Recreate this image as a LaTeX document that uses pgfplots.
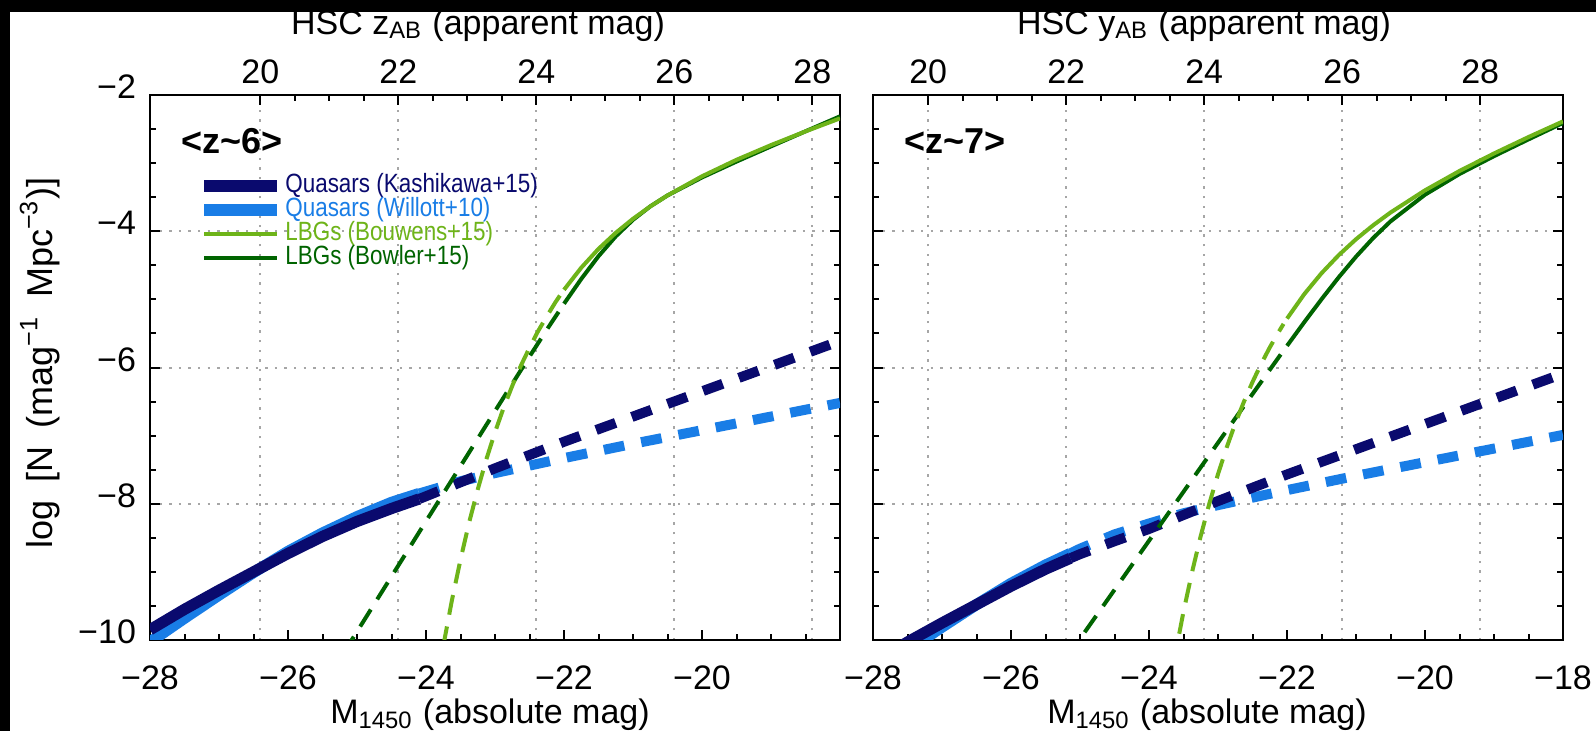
\documentclass[border=0pt]{standalone}
\usepackage{fontspec}
\setmainfont{Liberation Sans}
\newfontfamily\narrowfont{Liberation Sans}[FakeStretch=0.85]
\usepackage{pgfplots}
\pgfplotsset{compat=1.18}
\definecolor{qnavy}{RGB}{10,10,110}
\definecolor{qblue}{RGB}{25,125,230}
\definecolor{lgreen}{RGB}{110,180,25}
\definecolor{dgreen}{RGB}{0,100,0}
\pgfplotsset{
  common/.style={scale only axis, width=172.5bp, height=136.25bp, anchor=south west,
    ymin=-10, ymax=-2, tick align=inside, major tick length=2.5bp, minor tick length=1.5bp,
    every tick/.style={black, line width=0.5bp}, axis line style={line width=0.6bp},
    grid style={gray!70, line width=0.5bp, dash pattern=on 0.6bp off 1.8bp},
    tick label style={font=\fontsize{8.5bp}{10bp}\selectfont}},
  toppanel/.style={common, axis x line*=top, hide y axis, xtick={20,22,...,28},
    xticklabels={20,22,24,26,28}, minor x tick num=3, xmajorgrids,
    xticklabel style={yshift=-0.7bp}},
  panel/.style={common, xmin=-28, xmax=-18, xtick={-28,-26,...,-18}, minor x tick num=3,
    ytick={-10,-8,...,-2}, minor y tick num=3, ymajorgrids, xtick pos=left, xticklabel pos=left,
    ytick pos=both, yticklabel pos=left,
    xticklabel style={yshift=-2.85bp}, yticklabel style={yshift=2bp}},
  qsol/.style={line width=2.8bp},
  qdash/.style={line width=2.5bp, dash pattern=on 5.2bp off 4.3bp},
  gsol/.style={line width=1bp},
  gdash/.style={line width=1bp, dash pattern=on 5bp off 3bp},
}
\begin{document}
\begin{tikzpicture}[x=1bp,y=1bp]
\useasboundingbox (0,0) rectangle (399,182.75);
\fill[black] (0,0) rectangle (399,182.75);
\fill[white] (2.5,0) rectangle (399,179.75);

% ---------------- left panel (z~6) ----------------
\begin{axis}[toppanel, at={(37.5bp,22.75bp)}, xmin=18.4, xmax=28.4]
\end{axis}
\begin{axis}[panel, at={(37.5bp,22.75bp)}, xticklabels={−28,−26,−24,−22,−20,{}}, yticklabels={−10,−8,−6,−4,−2}]
% Quasars Willott+10
\addplot[qblue, qsol] coordinates {(-28,-10.03) (-27.5,-9.68) (-27,-9.34) (-26.5,-9.01) (-26,-8.70) (-25.5,-8.43) (-25,-8.19) (-24.5,-7.98) (-24.1,-7.85)};
\addplot[qblue, qdash] coordinates {(-24.1,-7.85) (-24,-7.82) (-23.5,-7.67) (-23,-7.55) (-22.5,-7.44) (-22,-7.33) (-21,-7.12) (-20,-6.92) (-19,-6.72) (-18,-6.52)};
% Quasars Kashikawa+15
\addplot[qnavy, qsol] coordinates {(-28,-9.85) (-27.5,-9.55) (-27,-9.27) (-26.5,-9.00) (-26,-8.73) (-25.5,-8.48) (-25,-8.26) (-24.5,-8.07) (-24.1,-7.93)};
\addplot[qnavy, qdash] coordinates {(-24.1,-7.93) (-24,-7.89) (-23,-7.48) (-22,-7.09) (-21,-6.72) (-20,-6.35) (-19,-5.98) (-18,-5.61)};
% LBGs Bowler+15
\addplot[dgreen, gdash] coordinates {(-25.2,-10.20) (-25,-9.877) (-24.5,-9.067) (-24,-8.257) (-23.5,-7.448) (-23,-6.640) (-22.5,-5.839) (-22.25,-5.446) (-22.05,-5.14)};
\addplot[dgreen, gsol] coordinates {(-22,-5.064) (-21.75,-4.700) (-21.5,-4.366) (-21.25,-4.075) (-21,-3.832) (-20.75,-3.635) (-20.5,-3.474) (-20,-3.210) (-19.5,-2.977) (-19,-2.754) (-18.5,-2.533) (-18,-2.313)};
% LBGs Bouwens+15
\addplot[lgreen, gdash] coordinates {(-23.75,-10.09) (-23.625,-9.42) (-23.5,-8.82) (-23.375,-8.275) (-23.25,-7.79) (-23.125,-7.346) (-23,-6.95) (-22.875,-6.591) (-22.75,-6.27) (-22.625,-5.973) (-22.5,-5.71) (-22.375,-5.465) (-22.25,-5.25) (-22.125,-5.043) (-22.05,-4.93)};
\addplot[lgreen, gsol] coordinates {(-22,-4.859) (-21.75,-4.535) (-21.5,-4.259) (-21.25,-4.023) (-21,-3.817) (-20.75,-3.636) (-20.5,-3.474) (-20,-3.193) (-19.5,-2.951) (-19,-2.735) (-18.5,-2.534) (-18,-2.343)};
% label and legend
\node[anchor=west, inner sep=0pt, font=\bfseries\fontsize{9bp}{10bp}\selectfont] at (rel axis cs:0.045,0.9156) {<z\textasciitilde 6>};
\draw[qnavy, line width=3bp] (rel axis cs:0.0783,0.833) -- (rel axis cs:0.184,0.833);
\draw[qblue, line width=3bp] (rel axis cs:0.0783,0.789) -- (rel axis cs:0.184,0.789);
\draw[lgreen, line width=1bp] (rel axis cs:0.0783,0.745) -- (rel axis cs:0.184,0.745);
\draw[dgreen, line width=1bp] (rel axis cs:0.0783,0.701) -- (rel axis cs:0.184,0.701);
\begin{scope}[every node/.style={anchor=west, inner sep=0pt, font=\narrowfont\fontsize{6.6bp}{8bp}\selectfont}]
\node[text=qnavy] at (rel axis cs:0.195,0.833) {Quasars (Kashikawa+15)};
\node[text=qblue] at (rel axis cs:0.195,0.789) {Quasars (Willott+10)};
\node[text=lgreen] at (rel axis cs:0.195,0.745) {LBGs (Bouwens+15)};
\node[text=dgreen] at (rel axis cs:0.195,0.701) {LBGs (Bowler+15)};
\end{scope}
\end{axis}

% ---------------- right panel (z~7) ----------------
\begin{axis}[toppanel, at={(218.25bp,22.75bp)}, xmin=19.2, xmax=29.2]
\end{axis}
\begin{axis}[panel, at={(218.25bp,22.75bp)}, xticklabels={−28,−26,−24,−22,−20,−18}, yticklabels={}]
\addplot[qblue, qsol] coordinates {(-28,-10.50) (-27.5,-10.15) (-27,-9.81) (-26.5,-9.48) (-26,-9.17) (-25.5,-8.90) (-25.14,-8.73)};
\addplot[qblue, qdash] coordinates {(-25.14,-8.73) (-25,-8.66) (-24.5,-8.45) (-24,-8.29) (-23.5,-8.14) (-23,-8.02) (-22.5,-7.91) (-22,-7.80) (-21,-7.59) (-20,-7.39) (-19,-7.19) (-18,-6.99)};
\addplot[qnavy, qsol] coordinates {(-28,-10.33) (-27.5,-10.03) (-27,-9.75) (-26.5,-9.48) (-26,-9.21) (-25.5,-8.96) (-25.14,-8.80)};
\addplot[qnavy, qdash] coordinates {(-25.14,-8.80) (-25,-8.74) (-24.5,-8.55) (-24,-8.37) (-23,-7.96) (-22,-7.57) (-21,-7.20) (-20,-6.83) (-19,-6.46) (-18,-6.09)};
\addplot[dgreen, gdash] coordinates {(-25.2,-10.27) (-25,-9.983) (-24.5,-9.263) (-24,-8.543) (-23.5,-7.824) (-23,-7.105) (-22.5,-6.389) (-22.25,-6.034) (-22.05,-5.75)};
\addplot[dgreen, gsol] coordinates {(-22,-5.682) (-21.75,-5.335) (-21.5,-4.998) (-21.25,-4.675) (-21,-4.373) (-20.75,-4.098) (-20.5,-3.855) (-20,-3.463) (-19.5,-3.159) (-19,-2.897) (-18.5,-2.651) (-18,-2.410)};
\addplot[lgreen, gdash] coordinates {(-23.65,-10.37) (-23.5,-9.583) (-23.375,-8.999) (-23.25,-8.471) (-23.125,-7.995) (-23,-7.565) (-22.875,-7.176) (-22.75,-6.823) (-22.625,-6.504) (-22.5,-6.213) (-22.375,-5.948) (-22.25,-5.706) (-22.125,-5.485) (-22.05,-5.36)};
\addplot[lgreen, gsol] coordinates {(-22,-5.282) (-21.75,-4.923) (-21.5,-4.616) (-21.25,-4.350) (-21,-4.117) (-20.75,-3.911) (-20.5,-3.725) (-20,-3.399) (-19.5,-3.115) (-19,-2.858) (-18.5,-2.617) (-18,-2.387)};
\node[anchor=west, inner sep=0pt, font=\bfseries\fontsize{9bp}{10bp}\selectfont] at (rel axis cs:0.045,0.9156) {<z\textasciitilde 7>};
\end{axis}

% ---------------- axis titles ----------------
\begin{scope}[every node/.style={font=\fontsize{8.5bp}{10bp}\selectfont, inner sep=0pt}]
\node at (119.5,176.25) {HSC z\textsubscript{AB} (apparent mag)};
\node at (301,176.25) {HSC y\textsubscript{AB} (apparent mag)};
\node at (122.5,4) {M\textsubscript{1450} (absolute mag)};
\node at (301.75,4) {M\textsubscript{1450} (absolute mag)};
\node[rotate=90, font=\fontsize{9bp}{10bp}\selectfont] at (10,92) {log\hspace{0.5em}[N\hspace{0.5em}(mag\textsuperscript{−1}\hspace{0.5em}Mpc\textsuperscript{−3})]};
\end{scope}
\end{tikzpicture}
\end{document}
